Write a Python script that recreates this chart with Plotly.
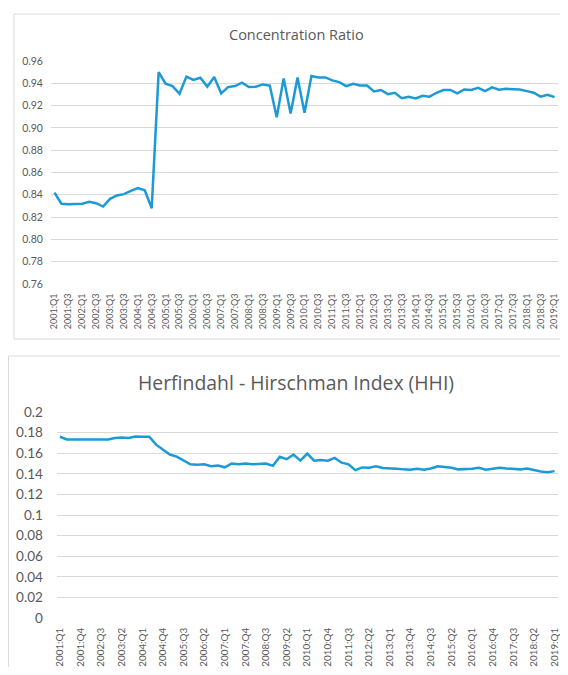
import plotly.graph_objects as go

# ---- data ----
quarters = [f"{y}:Q{q}" for y in range(2001, 2020) for q in range(1, 5)][:73]

concentration_ratio = [
    0.842, 0.832, 0.8316, 0.832, 0.832, 0.8337, 0.8325, 0.8295, 0.8364, 0.8394,
    0.8406, 0.8436, 0.846, 0.844, 0.828, 0.950, 0.9396, 0.9375, 0.9306, 0.946,
    0.943, 0.945, 0.937, 0.9456, 0.931, 0.9366, 0.9375, 0.9405, 0.9366, 0.937,
    0.939, 0.938, 0.9096, 0.9444, 0.913, 0.9453, 0.9135, 0.9465, 0.9453, 0.9453,
    0.9426, 0.9411, 0.9375, 0.9396, 0.938, 0.938, 0.9327, 0.934, 0.9303, 0.9315,
    0.9267, 0.928, 0.9264, 0.9288, 0.928, 0.9315, 0.934, 0.934, 0.931, 0.9345,
    0.934, 0.936, 0.933, 0.9363, 0.9342, 0.935, 0.9345, 0.9345, 0.933, 0.9315,
    0.928, 0.9297, 0.9276,
]

hhi = [
    0.176, 0.1733, 0.1733, 0.1733, 0.174, 0.174, 0.1733, 0.1733, 0.1747, 0.1753,
    0.1747, 0.1763, 0.176, 0.176, 0.1683, 0.1637, 0.1587, 0.1567, 0.153, 0.1493,
    0.1487, 0.1493, 0.1473, 0.148, 0.1463, 0.150, 0.1493, 0.150, 0.1493, 0.1493,
    0.150, 0.1477, 0.1565, 0.1542, 0.1587, 0.1528, 0.1597, 0.1528, 0.1534, 0.1528,
    0.1554, 0.1508, 0.1492, 0.1436, 0.1462, 0.1459, 0.1472, 0.1456, 0.1449, 0.1449,
    0.1443, 0.1439, 0.1449, 0.1439, 0.1452, 0.1472, 0.1466, 0.1459, 0.1443, 0.1443,
    0.1449, 0.1459, 0.1439, 0.1449, 0.1459, 0.1452, 0.1449, 0.1443, 0.1452, 0.1436,
    0.1423, 0.1416, 0.1426,
]

title_top = "Concentration Ratio"
title_bottom = "Herfindahl - Hirschman Index (HHI)"

top_ticks = quarters[::2]
bottom_ticks = quarters[::3]

# the page body has an 8px margin, so the figure starts at (8, 8);
# keep the whole figure inside the visible window
OFF = 8
W, H = 568 - 2 * OFF, 675 - 2 * OFF
LINE = "#1B9AD6"
GRID = "#D9D9D9"
TXT = "#595959"

def px(x):
    return (x - OFF) / W

def py(y):
    return 1 - (y - OFF) / H

fig = go.Figure()
fig.add_trace(go.Scatter(x=quarters, y=concentration_ratio, mode="lines",
                         line=dict(color=LINE, width=2.5), xaxis="x", yaxis="y",
                         hoverinfo="x+y"))
fig.add_trace(go.Scatter(x=quarters, y=hhi, mode="lines",
                         line=dict(color=LINE, width=2.5), xaxis="x2", yaxis="y2",
                         hoverinfo="x+y"))

fig.update_layout(
    width=W, height=H,
    margin=dict(l=0, r=0, t=0, b=0, autoexpand=False),
    paper_bgcolor="white", plot_bgcolor="white",
    showlegend=False,
    font=dict(family="Open Sans", color=TXT),
    xaxis=dict(domain=[px(51), px(558)], anchor="y", type="category",
               categoryorder="array", categoryarray=quarters,
               range=[-0.5, 72.5], tickmode="array", tickvals=top_ticks,
               tickangle=-90, tickfont=dict(size=9, color=TXT, family="Lato"),
               showgrid=False, zeroline=False, showline=False, automargin=False,
               ticks="outside", ticklen=5, tickcolor="rgba(0,0,0,0)"),
    yaxis=dict(domain=[py(284), py(61)], anchor="x", range=[0.76, 0.96],
               tickmode="array", tickvals=[0.76 + 0.02 * i for i in range(11)],
               tickformat=".2f", tickfont=dict(size=10.5, color=TXT, family="Lato"),
               showgrid=True, gridcolor=GRID, gridwidth=1, zeroline=False,
               showline=False, automargin=False, ticks="outside", ticklen=5,
               tickcolor="rgba(0,0,0,0)"),
    xaxis2=dict(domain=[px(56.5), px(558)], anchor="y2", type="category",
                categoryorder="array", categoryarray=quarters,
                range=[-0.5, 72.5], tickmode="array", tickvals=bottom_ticks,
                tickangle=-90, tickfont=dict(size=9.8, color=TXT, family="Lato"),
                showgrid=False, zeroline=False, showline=False, automargin=False,
                ticks="outside", ticklen=5, tickcolor="rgba(0,0,0,0)"),
    yaxis2=dict(domain=[py(618), py(412)], anchor="x2", range=[0, 0.2],
                tickmode="array", tickvals=[0.02 * i for i in range(11)],
                tickfont=dict(size=13.5, color=TXT, family="Lato"),
                showgrid=True, gridcolor=GRID, gridwidth=1, zeroline=False,
                showline=False, automargin=False, ticks="outside", ticklen=10,
                tickcolor="rgba(0,0,0,0)"),
    shapes=[
        dict(type="rect", xref="paper", yref="paper",
             x0=px(14), x1=1.02, y0=py(339), y1=py(14),
             line=dict(color=GRID, width=1), layer="below"),
        dict(type="rect", xref="paper", yref="paper",
             x0=px(8.5), x1=1.02, y0=-0.02, y1=py(356),
             line=dict(color=GRID, width=1), layer="below"),
    ],
    annotations=[
        dict(text=title_top, xref="paper", yref="paper", x=px(296), y=py(35),
             xanchor="center", yanchor="middle", showarrow=False,
             font=dict(size=14.5, color=TXT, family="Open Sans")),
        dict(text=title_bottom, xref="paper", yref="paper", x=px(296), y=py(382),
             xanchor="center", yanchor="middle", showarrow=False,
             font=dict(size=19.4, color=TXT, family="Open Sans")),
    ],
)

fig.write_html("out.html")
